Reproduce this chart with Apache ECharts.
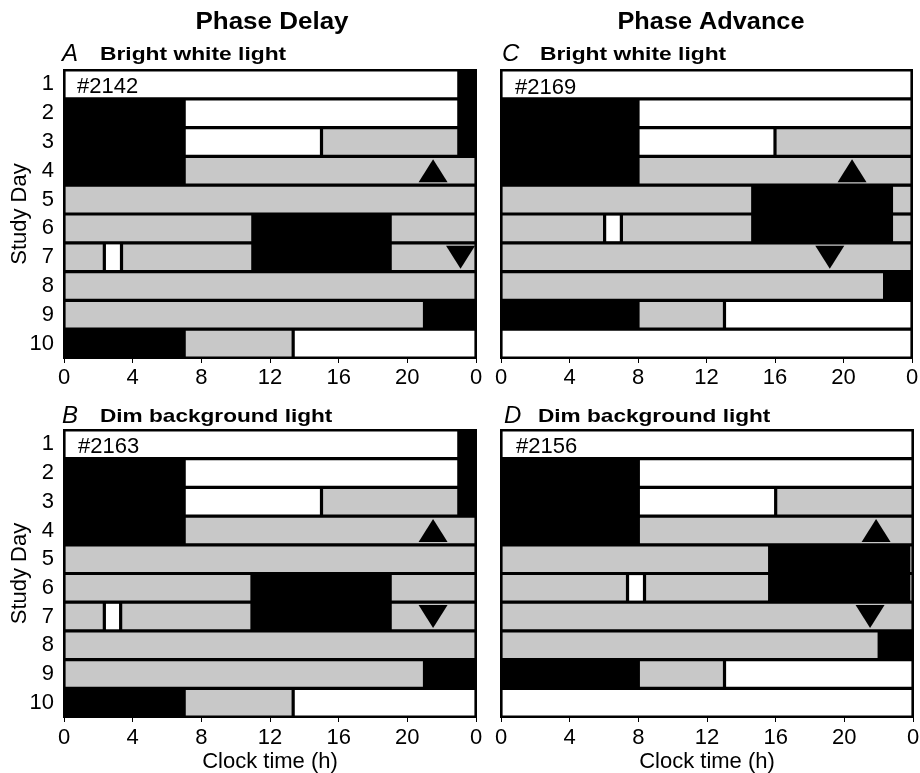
<!DOCTYPE html>
<html>
<head>
<meta charset="utf-8">
<script src="https://cdn.jsdelivr.net/npm/echarts@6/dist/echarts.min.js"></script>
<style>
html,body{margin:0;padding:0;background:#fff;}
#chart{width:920px;height:773px;}
</style>
</head>
<body>
<div id="chart"></div>
<script>
// ---- data ----
const days = ['1','2','3','4','5','6','7','8','9','10'];
const xTickLabels = ['0','4','8','12','16','20','0'];

// [day, start hour, end hour, light code]  W = white (bright), G = grey (dim), K = black (dark/sleep)
const segA = [
  [1,0,23,'W'],[1,23,24,'K'],
  [2,0,7,'K'],[2,7,23,'W'],[2,23,24,'K'],
  [3,0,7,'K'],[3,7,15,'W'],[3,15,23,'G'],[3,23,24,'K'],
  [4,0,7,'K'],[4,7,24,'G'],
  [5,0,24,'G'],
  [6,0,11,'G'],[6,11,19,'K'],[6,19,24,'G'],
  [7,0,2.35,'G'],[7,2.35,3.35,'W'],[7,3.35,11,'G'],[7,11,19,'K'],[7,19,24,'G'],
  [8,0,24,'G'],
  [9,0,21,'G'],[9,21,24,'K'],
  [10,0,7,'K'],[10,7,13.35,'G'],[10,13.35,24,'W']
];
const segB = [
  [1,0,23,'W'],[1,23,24,'K'],
  [2,0,7,'K'],[2,7,23,'W'],[2,23,24,'K'],
  [3,0,7,'K'],[3,7,15,'W'],[3,15,23,'G'],[3,23,24,'K'],
  [4,0,7,'K'],[4,7,24,'G'],
  [5,0,24,'G'],
  [6,0,10.95,'G'],[6,10.95,19,'K'],[6,19,24,'G'],
  [7,0,2.35,'G'],[7,2.35,3.3,'W'],[7,3.3,10.95,'G'],[7,10.95,19,'K'],[7,19,24,'G'],
  [8,0,24,'G'],
  [9,0,21,'G'],[9,21,24,'K'],
  [10,0,7,'K'],[10,7,13.35,'G'],[10,13.35,24,'W']
];
const segC = [
  [1,0,24,'W'],
  [2,0,8,'K'],[2,8,24,'W'],
  [3,0,8,'K'],[3,8,16,'W'],[3,16,24,'G'],
  [4,0,8,'K'],[4,8,24,'G'],
  [5,0,14.7,'G'],[5,14.7,22.8,'K'],[5,22.8,24,'G'],
  [6,0,6.05,'G'],[6,6.05,7.03,'W'],[6,7.03,14.7,'G'],[6,14.7,22.8,'K'],[6,22.8,24,'G'],
  [7,0,24,'G'],
  [8,0,22.4,'G'],[8,22.4,24,'K'],
  [9,0,8,'K'],[9,8,13.05,'G'],[9,13.05,24,'W'],
  [10,0,24,'W']
];
const segD = [
  [1,0,24,'W'],
  [2,0,8,'K'],[2,8,24,'W'],
  [3,0,8,'K'],[3,8,16,'W'],[3,16,24,'G'],
  [4,0,8,'K'],[4,8,24,'G'],
  [5,0,15.65,'G'],[5,15.65,23.75,'K'],[5,23.75,24,'G'],
  [6,0,7.37,'G'],[6,7.37,8.36,'W'],[6,8.36,15.65,'G'],[6,15.65,23.75,'K'],[6,23.75,24,'G'],
  [7,0,24,'G'],
  [8,0,22.03,'G'],[8,22.03,24,'K'],
  [9,0,8,'K'],[9,8,13.02,'G'],[9,13.02,24,'W'],
  [10,0,24,'W']
];

// [hour, day, direction]
const markA = [[21.5,4,'up'],[23.1,7,'down']];
const markB = [[21.5,4,'up'],[21.5,7,'down']];
const markC = [[20.5,4,'up'],[19.2,7,'down']];
const markD = [[21.85,4,'up'],[21.5,7,'down']];

const subjects = ['#2142','#2163','#2169','#2156'];
const panelLetters = ['A','B','C','D'];
const panelTitles = ['Bright white light','Dim background light','Bright white light','Dim background light'];
const columnTitles = ['Phase Delay','Phase Advance'];

// ---- styles ----
const colorMap = {W:'#ffffff', G:'#c8c8c8', K:'#000000'};
const FONT = "'Liberation Sans', Arial, sans-serif";

const panels = [
  {seg:segA, mark:markA, grid:{left:64, top:70, width:412, height:288}, yLabels:true, xName:'', lm:9},
  {seg:segB, mark:markB, grid:{left:64, top:430, width:412, height:287}, yLabels:true, xName:'Clock time (h)', lm:10},
  {seg:segC, mark:markC, grid:{left:501, top:70, width:411, height:288}, yLabels:false, xName:'', lm:9},
  {seg:segD, mark:markD, grid:{left:501, top:430, width:412, height:287}, yLabels:false, xName:'Clock time (h)', lm:10}
];

const INS = 1.6;
function makeRender(seg){
  return function(params, api){
    const idx = api.value(2);
    const p0 = api.coord([api.value(0), idx]);
    const p1 = api.coord([api.value(1), idx]);
    const h = api.size([0,1])[1];
    return {
      type:'rect',
      shape:{x:p0[0]+INS, y:p0[1]-h/2+INS, width:Math.max(0,p1[0]-p0[0]-2*INS), height:h-2*INS},
      style:{fill:colorMap[seg[params.dataIndex][3]]}
    };
  };
}

const grids=[], xAxes=[], yAxes=[], series=[];
panels.forEach((p,i)=>{
  grids.push(Object.assign({show:true, backgroundColor:'#000', borderColor:'#000', borderWidth:2, outerBoundsMode:'none', containLabel:false}, p.grid));
  xAxes.push({
    type:'value', gridIndex:i, min:0, max:24, interval:4,
    axisLine:{show:true, lineStyle:{color:'#000', width:2}},
    axisTick:{show:true, length:5, lineStyle:{color:'#000', width:1}},
    splitLine:{show:false},
    axisLabel:{color:'#000', fontSize:22, fontFamily:FONT, margin:p.lm,
      formatter:(v)=>xTickLabels[Math.round(v/4)]},
    name:p.xName, nameLocation:'middle', nameGap:34,
    nameTextStyle:{color:'#000', fontSize:22, fontFamily:FONT}
  });
  yAxes.push({
    type:'category', gridIndex:i, data:days, inverse:true,
    axisLine:{show:false}, axisTick:{show:false}, splitLine:{show:false},
    axisLabel:{show:p.yLabels, color:'#000', fontSize:22, fontFamily:FONT, margin:10},
    name:p.yLabels?'Study Day':'', nameLocation:'middle', nameGap:33, nameRotate:90,
    nameMoveOverlap:false,
    nameTextStyle:{color:'#000', fontSize:22, fontFamily:FONT}
  });
  series.push({
    type:'custom', xAxisIndex:i, yAxisIndex:i,
    renderItem:makeRender(p.seg),
    encode:{x:[0,1], y:2},
    data:p.seg.map(s=>[s[1], s[2], s[0]-1]),
    silent:true
  });
  series.push({
    type:'scatter', xAxisIndex:i, yAxisIndex:i, symbol:'triangle', symbolSize:[29,23],
    itemStyle:{color:'#000', opacity:1}, silent:true, z:5,
    data:p.mark.map(m=>({value:[m[0], m[1]-1], symbolRotate:m[2]==='down'?180:0}))
  });
});

function txt(x,y,text,font,align,sx){
  return {type:'text', x:x, y:y, z:100, zlevel:0, silent:true, scaleX:sx||1,
    style:{text:text, font:font, fill:'#000', textAlign:align||'left', textVerticalAlign:'middle'}};
}
const TB = "bold 23px "+FONT, SB = "bold 19px "+FONT, IT = "italic 24px "+FONT, NM = "22px "+FONT;
const graphics = [
  txt(272,23,columnTitles[0],TB,'center',1.13),
  txt(711,23,columnTitles[1],TB,'center',1.1),
  txt(62,54,panelLetters[0],IT),
  txt(100,54.5,panelTitles[0],SB,'left',1.2),
  txt(62,416,panelLetters[1],IT),
  txt(100,417,panelTitles[1],SB,'left',1.19),
  txt(502,54,panelLetters[2],IT),
  txt(540,54.5,panelTitles[2],SB,'left',1.2),
  txt(504,416,panelLetters[3],IT),
  txt(538,417,panelTitles[3],SB,'left',1.19),
  txt(77,87,subjects[0],NM),
  txt(78,447,subjects[1],NM),
  txt(515,88,subjects[2],NM),
  txt(516,447,subjects[3],NM)
];

const chart = echarts.init(document.getElementById('chart'), null, {renderer:'canvas'});
chart.setOption({
  animation:false,
  backgroundColor:'#fff',
  grid:grids, xAxis:xAxes, yAxis:yAxes, series:series,
  graphic:{elements:graphics}
});
</script>
</body>
</html>
